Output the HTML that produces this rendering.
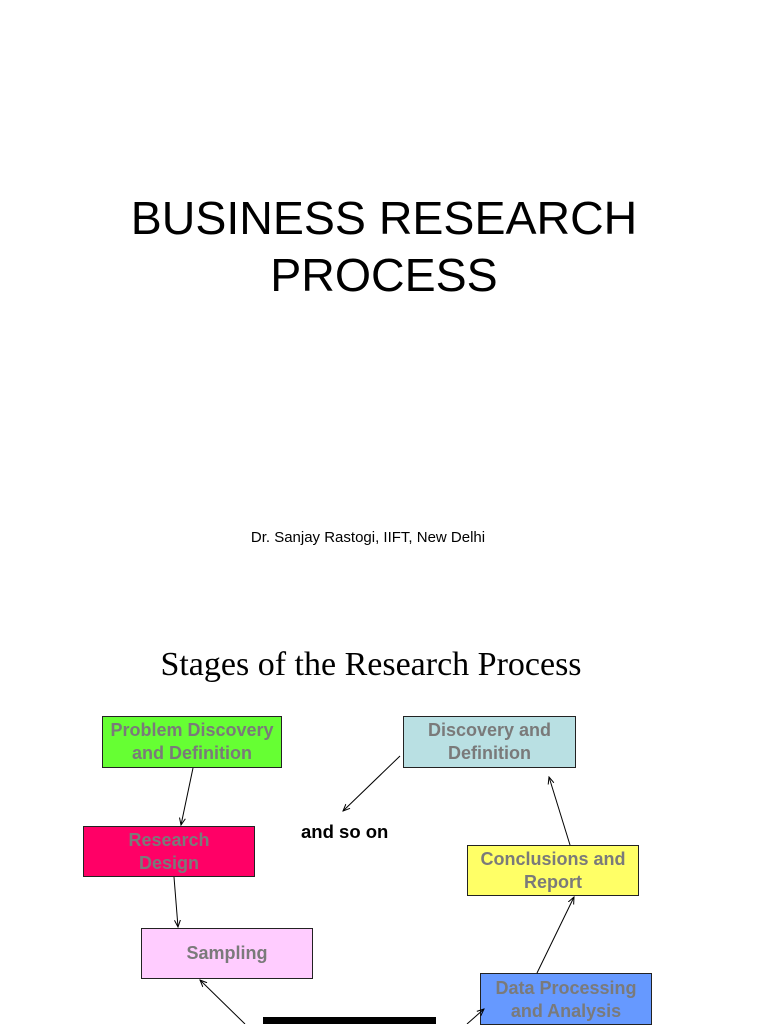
<!DOCTYPE html>
<html><head><style>
body{margin:0;width:768px;height:1024px;background:#fff;position:relative;overflow:hidden;font-family:"Liberation Sans",sans-serif}
.t{position:absolute;left:0;width:768px;text-align:center;white-space:nowrap}
.b{position:absolute;box-sizing:border-box;border:1px solid #222;display:flex;align-items:center;justify-content:center;text-align:center;color:#7a7a7a;font-weight:bold;font-size:18px;line-height:23px;white-space:nowrap}
</style></head><body>
<div class="t" style="top:190px;font-size:46.5px;line-height:57px;">BUSINESS RESEARCH<br>PROCESS</div>
<div class="t" style="top:529px;font-size:15px;left:-16px">Dr. Sanjay Rastogi, IIFT, New Delhi</div>
<div class="t" style="top:646px;font-family:'Liberation Serif',serif;font-size:34px;left:-13px">Stages of the Research Process</div>
<div class="b" style="left:102px;top:716px;width:180px;height:52px;background:#66ff33">Problem Discovery<br>and Definition</div>
<div class="b" style="left:83px;top:826px;width:172px;height:51px;background:#ff0066">Research<br>Design</div>
<div class="b" style="left:141px;top:928px;width:172px;height:51px;background:#ffccff">Sampling</div>
<div class="b" style="left:403px;top:716px;width:173px;height:52px;background:#b9e0e3">Discovery and<br>Definition</div>
<div class="b" style="left:467px;top:845px;width:172px;height:51px;background:#ffff66">Conclusions and<br>Report</div>
<div class="b" style="left:480px;top:973px;width:172px;height:52px;background:#6699ff;align-items:flex-start;padding-top:3px">Data Processing<br>and Analysis</div>
<div style="position:absolute;left:263px;top:1017px;width:173px;height:7px;background:#000"></div>
<div style="position:absolute;left:301px;top:821px;font-weight:bold;font-size:18.5px">and so on</div>
<svg width="768" height="1024" style="position:absolute;left:0;top:0">
<defs><marker id="a" markerWidth="8" markerHeight="8" refX="7" refY="4" orient="auto"><path d="M0,1 L7,4 L0,7" fill="none" stroke="#000" stroke-width="1"/></marker></defs>
<g stroke="#000" stroke-width="1" marker-end="url(#a)">
<line x1="193" y1="768" x2="181" y2="825"/>
<line x1="174" y1="877" x2="178" y2="927"/>
<line x1="245" y1="1024" x2="200" y2="980"/>
<line x1="467" y1="1024" x2="484" y2="1009"/>
<line x1="537" y1="973" x2="574" y2="897"/>
<line x1="570" y1="845" x2="549" y2="777"/>
<line x1="400" y1="756" x2="343" y2="811"/>
</g></svg>
</body></html>
